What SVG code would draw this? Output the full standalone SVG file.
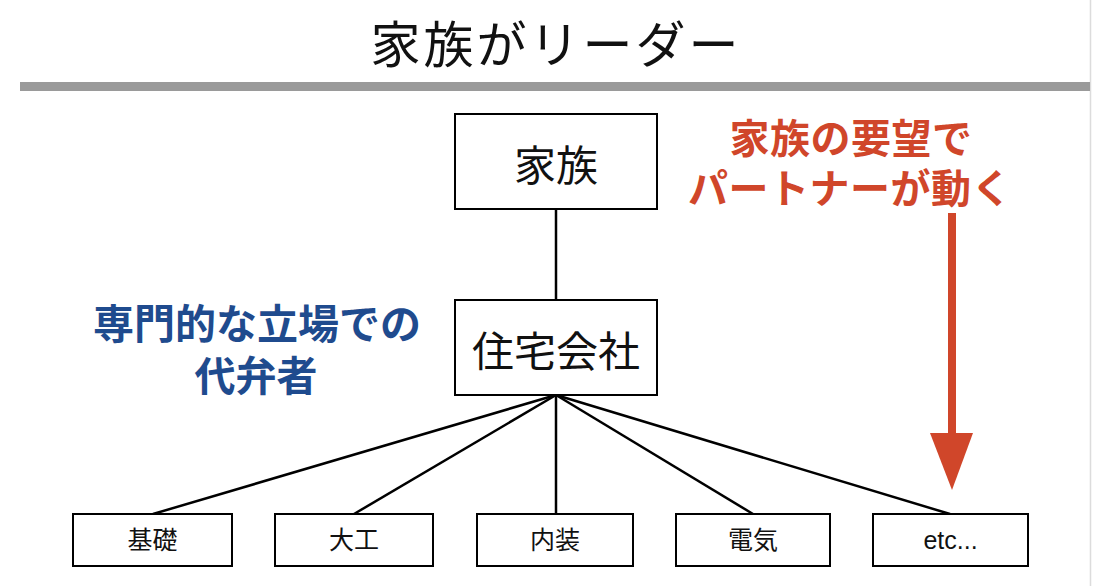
<svg xmlns="http://www.w3.org/2000/svg" width="1093" height="586" viewBox="0 0 1093 586">
<defs>
<style>
.box{fill:#fff;stroke:#000;stroke-width:2}
.jp{font-family:"Noto Sans CJK JP","Noto Sans",sans-serif}
.lbl{font-family:"Liberation Sans","Noto Sans CJK JP",sans-serif;font-size:25px;fill:#111;text-anchor:middle;dominant-baseline:central}
.big{font-size:42px;fill:#111;text-anchor:middle;dominant-baseline:central}
.conn{stroke:#000;stroke-width:2.5;fill:none}
.red{fill:#d0462a}
.blue{fill:#1f4b8e}
</style>
</defs>
<rect width="1093" height="586" fill="#fff"/>
<line x1="1090.5" y1="0" x2="1090.5" y2="586" stroke="#dcdcdc" stroke-width="1.5"/>
<g id="title">
<text class="jp" x="556" y="63" font-size="50" text-anchor="middle" letter-spacing="3" fill="#111">家族がリーダー</text>
<rect x="20" y="82" width="1070" height="9" fill="#9a9a9a"/>
</g>
<g id="connectors">
<line class="conn" x1="556" y1="209" x2="556" y2="300"/>
<line class="conn" x1="556" y1="395" x2="153" y2="514"/>
<line class="conn" x1="556" y1="395" x2="354" y2="514"/>
<line class="conn" x1="556" y1="395" x2="556" y2="514"/>
<line class="conn" x1="556" y1="395" x2="753" y2="514"/>
<line class="conn" x1="556" y1="395" x2="950" y2="514"/>
</g>
<g id="family">
<rect class="box" x="455" y="114" width="202" height="95"/>
<text class="jp big" x="556" y="162">家族</text>
</g>
<g id="company">
<rect class="box" x="455" y="300" width="202" height="95"/>
<text class="jp big" x="556" y="348">住宅会社</text>
</g>
<g id="kiso">
<rect class="box" x="73" y="514" width="159" height="52"/>
<text class="lbl" x="152.5" y="540">基礎</text>
</g>
<g id="daiku">
<rect class="box" x="275" y="514" width="158" height="52"/>
<text class="lbl" x="354" y="540">大工</text>
</g>
<g id="naisou">
<rect class="box" x="477" y="514" width="156" height="52"/>
<text class="lbl" x="555" y="540">内装</text>
</g>
<g id="denki">
<rect class="box" x="676" y="514" width="154" height="52"/>
<text class="lbl" x="753" y="540">電気</text>
</g>
<g id="etc">
<rect class="box" x="873" y="514" width="155" height="52"/>
<text class="lbl" x="950.5" y="540">etc...</text>
</g>
<g id="note-red">
<text class="jp red" x="851" y="136" font-size="40" font-weight="bold" text-anchor="middle" dominant-baseline="central" letter-spacing="0.5">家族の要望で</text>
<text class="jp red" x="850" y="186" font-size="40" font-weight="bold" text-anchor="middle" dominant-baseline="central" letter-spacing="0.5">パートナーが動く</text>
<rect class="red" x="948" y="213" width="8" height="222"/>
<polygon class="red" points="930,433 973,433 952,490"/>
</g>
<g id="note-blue">
<text class="jp blue" x="257" y="321" font-size="41" font-weight="bold" text-anchor="middle" dominant-baseline="central">専門的な立場での</text>
<text class="jp blue" x="256" y="373" font-size="41" font-weight="bold" text-anchor="middle" dominant-baseline="central">代弁者</text>
</g>
</svg>
